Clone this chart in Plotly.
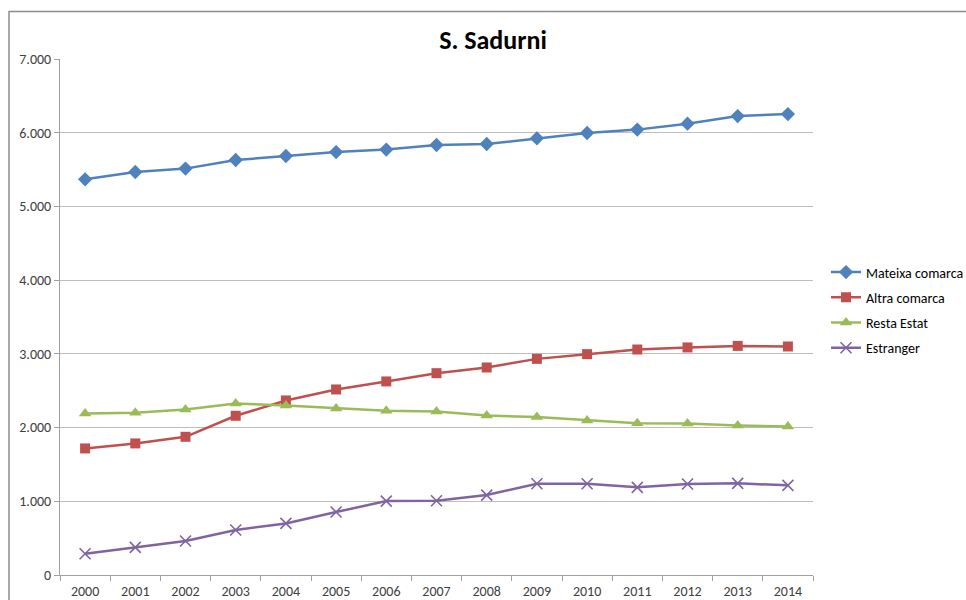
import plotly.graph_objects as go

years = [str(y) for y in range(2000, 2015)]
mateixa = [5368, 5467, 5513, 5630, 5684, 5738, 5771, 5833, 5847, 5924, 5996, 6042, 6123, 6226, 6253]
altra = [1717, 1785, 1875, 2160, 2368, 2517, 2626, 2738, 2815, 2932, 2996, 3059, 3087, 3108, 3100]
resta = [2192, 2200, 2246, 2327, 2300, 2260, 2227, 2219, 2165, 2142, 2097, 2060, 2056, 2029, 2016]
estranger = [289, 375, 461, 610, 700, 854, 1003, 1007, 1084, 1238, 1238, 1189, 1234, 1243, 1216]

FONT = "Carlito, Lato, 'DejaVu Sans', sans-serif"

series = [
    ("Mateixa comarca", mateixa, "#4F81BD", "diamond", 11, 0),
    ("Altra comarca", altra, "#C0504D", "square", 10, 0),
    ("Resta Estat", resta, "#9BBB59", "triangle-up", 11, 0),
    ("Estranger", estranger, "#8064A2", "x-thin", 11, 1.6),
]

fig = go.Figure()
for name, vals, col, sym, size, lw in series:
    marker = dict(symbol=sym, size=size, color=col)
    if lw:
        marker["line"] = dict(color=col, width=lw)
    fig.add_trace(go.Scatter(
        x=years, y=vals, name=name, mode="lines+markers",
        line=dict(color=col, width=2.5), marker=marker, legendgroup=name,
    ))

fig.update_layout(
    width=966, height=600,
    margin=dict(l=60, r=153, t=59, b=25, autoexpand=False),
    paper_bgcolor="white", plot_bgcolor="white",
    font=dict(family=FONT, size=14, color="#404040"),
    separators=",.",
    title=dict(text="<b>S. Sadurni</b>", x=493 / 966, xref="container", xanchor="center",
               y=1 - 40 / 600, yref="container", yanchor="middle",
               font=dict(family=FONT, size=26, color="black")),
    legend=dict(x=826 / 966, xref="container", xanchor="left",
                y=1 - 310 / 600, yref="container", yanchor="middle",
                font=dict(family=FONT, size=14, color="black"),
                tracegroupgap=4, bgcolor="rgba(0,0,0,0)"),
    showlegend=True,
    xaxis=dict(type="category", range=[-0.5, 14.5], showgrid=False, automargin=False,
               showline=True, linecolor="#A0A0A0", linewidth=1,
               ticks="outside", tickson="boundaries", ticklen=5, tickcolor="#A0A0A0",
               ticklabelstandoff=3,
               tickfont=dict(family=FONT, size=14, color="#404040"), fixedrange=True),
    yaxis=dict(range=[0, 7000], dtick=1000, tickformat=",", showgrid=True, automargin=False,
               gridcolor="#BEBEBE", gridwidth=1, zeroline=False,
               showline=True, linecolor="#A0A0A0", linewidth=1,
               ticks="outside", ticklen=5, tickcolor="#A0A0A0",
               tickfont=dict(family=FONT, size=14, color="#404040"), fixedrange=True),
    shapes=[dict(type="rect", xref="paper", yref="paper",
                 x0=(9 - 60) / 753, x1=2.0, y0=-1.0, y1=(575 - 11.5) / 516,
                 line=dict(color="#8C8C8C", width=1.5), fillcolor="rgba(0,0,0,0)",
                 layer="below")],
)

fig.write_html("out.html", config={"displayModeBar": False},
               post_script="document.body.style.margin='0';document.body.style.overflow='hidden';")
